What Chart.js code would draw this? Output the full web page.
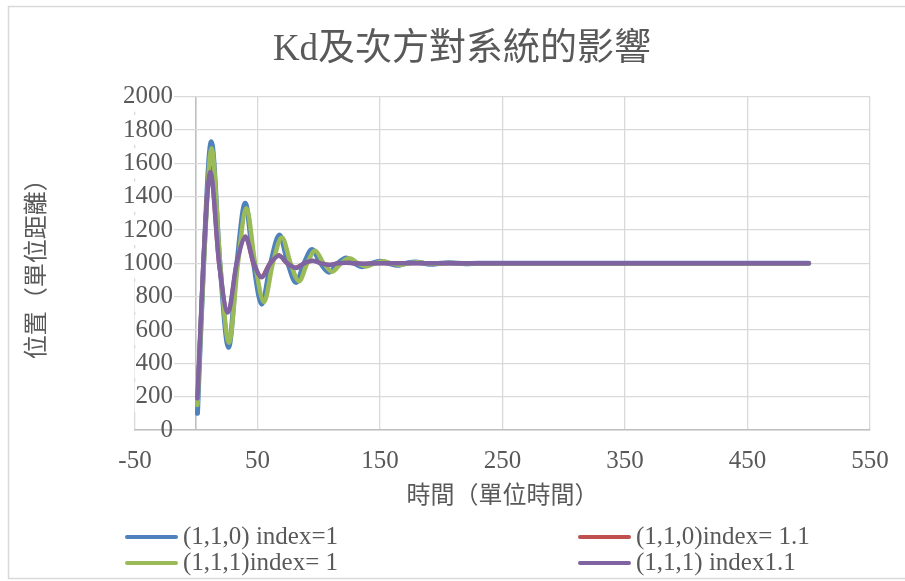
<!DOCTYPE html>
<html><head><meta charset="utf-8">
<script src="https://cdn.jsdelivr.net/npm/chart.js@4/dist/chart.umd.min.js"></script>
<style>html,body{margin:0;padding:0;background:#fff;}#wrap{width:905px;height:581px;}</style>
</head><body><div id="wrap"><canvas id="c" width="905" height="581"></canvas></div>
<script>
// ---- data ----
const seriesNames = ['(1,1,0) index=1', '(1,1,0)index= 1.1', '(1,1,1)index= 1', '(1,1,1) index1.1'];
const seriesColors = ['#4F81BD', '#C0504D', '#9BBB59', '#8064A2'];
const xTickValues = [-50, 0, 50, 150, 250, 350, 450, 550];

const tBlue = [1, 6, 12.3, 19.3, 26.4, 33.2, 40, 46.8, 53.5, 60.7, 68, 74.8, 81.5, 88, 94.5, 101.5, 108.5, 115.5, 122.5, 129, 135.6, 143, 150, 157, 164, 171, 179, 186, 192, 199, 206, 213, 220, 230, 500];
const vBlue = [100, 1000, 1730, 1000, 496, 1000, 1360, 1000, 755, 1000, 1170, 1000, 885, 1000, 1083, 1000, 946, 1000, 1032, 1000, 980, 1000, 1012, 1000, 988, 1000, 1008, 1000, 994, 1000, 1004, 1000, 998, 1000, 1000];

const tRed = [1, 5.7, 11.2, 18.5, 25.9, 33, 40, 46.5, 53, 60, 67, 74, 81, 88, 95, 102, 109, 115.5, 122, 129, 136, 150, 500];
const vRed = [190, 1000, 1580, 1000, 712, 1000, 1162, 1000, 920, 1000, 1050, 1000, 975, 1000, 1016, 1000, 992, 1000, 1005, 1000, 998, 1000, 1000];

const tGreen = [1, 6.2, 12.5, 19.5, 26.7, 34, 41, 48, 55.3, 62.5, 70, 77, 84, 90.5, 97, 104, 111, 118, 125, 132, 138.5, 145.5, 152.5, 159, 166, 173.5, 181, 187.5, 194, 201, 208, 222, 500];
const vGreen = [150, 1000, 1690, 1000, 524, 1000, 1330, 1000, 768, 1000, 1155, 1000, 893, 1000, 1076, 1000, 950, 1000, 1030, 1000, 981, 1000, 1012, 1000, 991, 1000, 1006, 1000, 997, 1000, 1002, 1000, 1000];

const tPurple = [1, 5.8, 11.5, 18.7, 25.9, 33, 40.3, 47, 53.5, 60.5, 67.5, 74.5, 81.5, 88, 95, 102, 109, 115.5, 122, 129, 136, 150, 500];
const vPurple = [190, 1000, 1548, 1000, 705, 1000, 1156, 1000, 916, 1000, 1045, 1000, 972, 1000, 1015, 1000, 990, 1000, 1004, 1000, 998, 1000, 1000];

// ---- styling ----
const FONT = "'Liberation Serif', 'Noto Sans CJK TC', serif";
const TEXT = '#595959';
const GRID = '#D9D9D9';
const AXIS = '#BFBFBF';

const toPts = (ts, vs) => ts.map((t, i) => ({x: t, y: vs[i]}));
const seriesData = [toPts(tBlue, vBlue), toPts(tRed, vRed), toPts(tGreen, vGreen), toPts(tPurple, vPurple)];
const widths = [5, 4, 4.5, 4.5];
const drawOrder = [4, 3, 2, 1];

const frame = {
  id: 'frame',
  beforeDraw(chart) {
    const c = chart.ctx;
    c.save();
    c.fillStyle = '#fff';
    c.fillRect(0, 0, chart.width, chart.height);
    c.strokeStyle = GRID; c.lineWidth = 1.5;
    c.strokeRect(8.5, 6.5, chart.width + 10, chart.height - 9);
    c.restore();
  }
};

const gridLegend = {
  id: 'gridLegend',
  afterDraw(chart) {
    const c = chart.ctx;
    const cols = [125, 578], rows = [chart.height - 44, chart.height - 18];
    c.save();
    c.font = '25px ' + FONT;
    c.textBaseline = 'middle';
    c.textAlign = 'left';
    chart.data.datasets.forEach((ds, i) => {
      const x = cols[i % 2], y = rows[Math.floor(i / 2)];
      c.strokeStyle = ds.borderColor; c.lineWidth = 4; c.lineCap = 'round';
      c.beginPath(); c.moveTo(x + 2, y); c.lineTo(x + 51, y); c.stroke();
      c.fillStyle = TEXT;
      c.fillText(ds.label, x + 58, y);
    });
    c.restore();
  }
};

new Chart(document.getElementById('c'), {
  type: 'scatter',
  data: {
    datasets: seriesNames.map((name, i) => ({
      label: name,
      data: seriesData[i],
      showLine: true,
      borderColor: seriesColors[i],
      backgroundColor: seriesColors[i],
      borderWidth: widths[i],
      pointRadius: 0,
      pointHoverRadius: 0,
      fill: false,
      cubicInterpolationMode: 'monotone',
      borderCapStyle: 'round',
      borderJoinStyle: 'round',
      order: drawOrder[i]
    }))
  },
  options: {
    responsive: false,
    animation: false,
    devicePixelRatio: 1,
    layout: {padding: {left: 19, right: 0, top: 6, bottom: 65.6}},
    plugins: {
      legend: {display: false},
      tooltip: {enabled: false},
      title: {
        display: true,
        text: 'Kd及次方對系統的影響',
        color: TEXT,
        font: {family: FONT, size: 37, weight: 'normal'},
        padding: {top: 21.8, bottom: 24.5}
      }
    },
    scales: {
      x: {
        type: 'linear',
        min: -50, max: 550,
        afterBuildTicks: (axis) => { axis.ticks = xTickValues.map(v => ({value: v})); },
        afterFit: (s) => { s.height = 85.4; },
        ticks: {
          autoSkip: false, maxRotation: 0, padding: 16,
          color: TEXT, font: {family: FONT, size: 25},
          callback: (v) => (v === 0 ? '' : String(v))
        },
        grid: {
          drawTicks: false,
          color: (ctx) => (ctx.tick && ctx.tick.value === 0 ? AXIS : GRID),
          lineWidth: (ctx) => (ctx.tick && ctx.tick.value === 0 ? 1.6 : 1.3)
        },
        border: {display: true, color: AXIS, width: 1.6},
        title: {
          display: true, text: '時間（單位時間）', color: TEXT,
          font: {family: FONT, size: 24}, padding: {top: 0, bottom: 4}
        }
      },
      y: {
        type: 'linear',
        position: 'left',
        min: 0, max: 2000,
        afterFit: (s) => { s.width = 116; },
        ticks: {
          stepSize: 200, padding: -12, mirror: true, crossAlign: 'far',
          color: TEXT, font: {family: FONT, size: 25},
          callback: (v) => String(v),
          showLabelBackdrop: true,
          backdropColor: (ctx) => (ctx.tick && ctx.tick.value === 0 ? 'rgba(255,255,255,0)' : '#ffffff'),
          backdropPadding: {top: 0, bottom: 0, left: 1, right: 1}
        },
        grid: {drawTicks: false, color: GRID, lineWidth: 1.3},
        border: {display: false},
        title: {
          display: true, text: '位置（單位距離）', color: TEXT,
          font: {family: FONT, size: 24}, padding: {top: 4.6, bottom: 0}
        }
      },
      yRight: {
        type: 'linear',
        position: 'right',
        display: true,
        afterFit: (s) => { s.width = 35; },
        ticks: {display: false},
        grid: {display: false, drawTicks: false},
        border: {display: false}
      }
    }
  },
  plugins: [frame, gridLegend]
});
</script>
</body></html>
